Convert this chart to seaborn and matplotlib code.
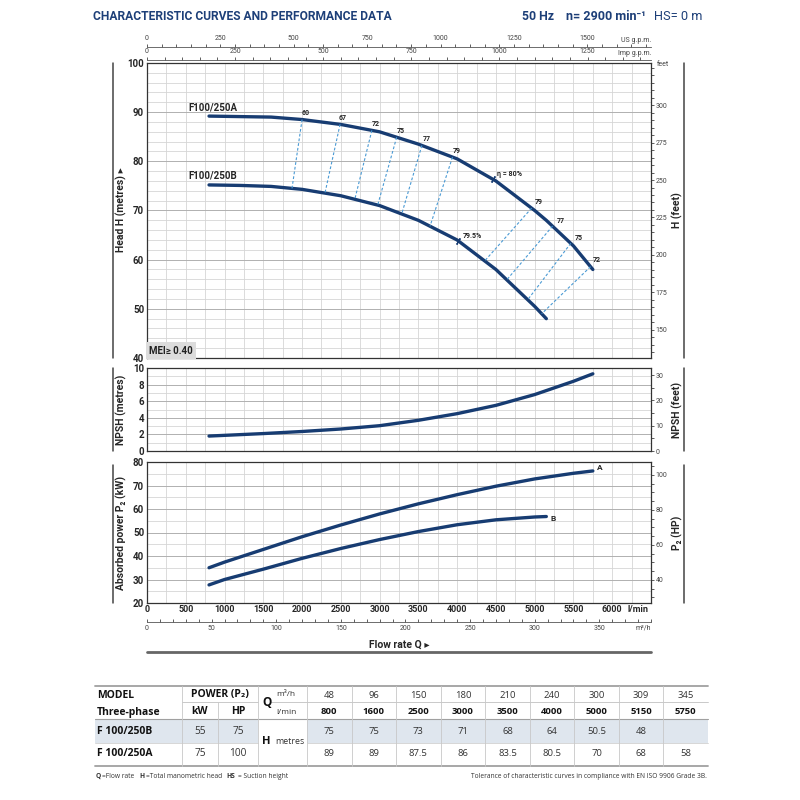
import numpy as np
import matplotlib
matplotlib.use("Agg")
import matplotlib.pyplot as plt
import seaborn as sns
from matplotlib.ticker import MultipleLocator, FixedLocator
from matplotlib.lines import Line2D
from matplotlib.patches import Rectangle

# ---- data ----
# performance table
tab_q_m3h = ["48", "96", "150", "180", "210", "240", "300", "309", "345"]
tab_q_lmin = ["800", "1600", "2500", "3000", "3500", "4000", "5000", "5150", "5750"]
tab_h_b = ["75", "75", "73", "71", "68", "64", "50.5", "48", ""]
tab_h_a = ["89", "89", "87.5", "86", "83.5", "80.5", "70", "68", "58"]
models = ["F 100/250B", "F 100/250A"]
power_kw = ["55", "75"]
power_hp = ["75", "100"]

# head curves (l/min, metres)
head_q_a = [800, 1200, 1600, 2000, 2500, 3000, 3500, 4000, 4500, 5000, 5150, 5500, 5750]
head_a = [89.2, 89.1, 89.0, 88.5, 87.5, 86.0, 83.5, 80.5, 76.0, 70.0, 68.0, 62.8, 58.0]
head_q_b = [800, 1200, 1600, 2000, 2500, 3000, 3500, 4000, 4500, 5000, 5150]
head_b = [75.2, 75.1, 74.9, 74.3, 73.0, 71.0, 68.0, 64.0, 58.0, 50.5, 48.0]

# iso-efficiency lines: flow on curve A, flow on curve B
eff_labels = ["60", "67", "72", "75", "77", "79", "79", "77", "75", "72"]
eff_q_a = [2000, 2490, 2900, 3220, 3545, 3940, 4960, 5230, 5465, 5720]
eff_q_b = [1870, 2295, 2680, 2975, 3285, 3650, 4355, 4640, 4910, 5090]
eff_offsets = [(4, 7), (3, 6), (4, 6), (4, 6), (5, 6), (4, 6), (7, 6), (8, 5), (8, 5), (6, 7)]
best_eff_a = 4460
best_eff_b = 4010

# NPSH curve
npsh_q = [800, 1500, 2000, 2500, 3000, 3500, 4000, 4500, 5000, 5500, 5750]
npsh = [1.8, 2.1, 2.35, 2.65, 3.05, 3.7, 4.5, 5.5, 6.8, 8.4, 9.3]

# absorbed power curves
pow_q_a = [800, 1000, 1500, 2000, 2500, 3000, 3500, 4000, 4500, 5000, 5500, 5750]
pow_a = [35.0, 37.4, 42.8, 48.2, 53.2, 57.9, 62.2, 66.1, 69.7, 72.8, 75.2, 76.2]
pow_q_b = [800, 1000, 1500, 2000, 2500, 3000, 3500, 4000, 4500, 5000, 5150]
pow_b = [27.7, 30.0, 34.4, 39.0, 43.2, 47.0, 50.4, 53.3, 55.4, 56.6, 56.8]

NAVY = "#173c72"
DASH = "#4a9ad4"
TITLE = "#1d3f78"
GRID_MIN = "#d6d6d6"
GRID_MAJ = "#b0b0b0"
SPINE = "#333333"

sns.set_theme(style="white")
MAIN = ["Roboto", "DejaVu Sans"]
OPEN = ["Open Sans", "DejaVu Sans"]
plt.rcParams["font.family"] = MAIN

fig = plt.figure(figsize=(8, 8), dpi=100)
renderer = fig.canvas.get_renderer()


def rect(l, t, r, b):
    return [l / 800, 1 - b / 800, (r - l) / 800, (b - t) / 800]


def ftext(x, y, s, **kw):
    return fig.text(x / 800, 1 - y / 800, s, **kw)


def fline(xs, ys, color="#999999", lw=0.6):
    fig.add_artist(Line2D([x / 800 for x in xs], [1 - y / 800 for y in ys],
                          transform=fig.transFigure, color=color, lw=lw))


def fit_text(x, y, s, width, size, **kw):
    # shrink a text so that it spans about `width` pixels
    t = ftext(x, y, s, fontsize=size, **kw)
    w = t.get_window_extent(renderer).width
    t.set_fontsize(size * width / w)
    return t


def runs(x, y, parts, **kw):
    # consecutive pieces of text: (text, weight, gap after in px)
    for s, weight, gap in parts:
        t = ftext(x, y, s, fontweight=weight, ha="left", **kw)
        x += t.get_window_extent(renderer).width + gap


ax_h = fig.add_axes(rect(147, 63, 651, 358))
ax_n = fig.add_axes(rect(147, 368, 651, 451))
ax_p = fig.add_axes(rect(147, 462, 651, 603))

for ax, (lo, hi, maj, mnr) in zip((ax_h, ax_n, ax_p),
                                   [(40, 100, 10, 2), (0, 10, 2, 1), (20, 80, 10, 5)]):
    ax.set_xlim(0, 6500)
    ax.set_ylim(lo, hi)
    ax.xaxis.set_major_locator(MultipleLocator(500))
    ax.xaxis.set_minor_locator(MultipleLocator(250))
    ax.yaxis.set_major_locator(MultipleLocator(maj))
    ax.yaxis.set_minor_locator(MultipleLocator(mnr))
    ax.set_axisbelow(True)
    ax.grid(which="both", axis="x", color=GRID_MIN, lw=0.6)
    ax.grid(which="minor", axis="y", color=GRID_MIN, lw=0.6)
    ax.grid(which="major", axis="y", color=GRID_MAJ, lw=0.7)
    ax.tick_params(which="both", length=0, pad=2)
    ax.tick_params(axis="y", labelsize=7)
    for lab in ax.get_yticklabels():
        lab.set_fontweight("bold")
    for sp in ax.spines.values():
        sp.set_color(SPINE)
        sp.set_linewidth(0.9)

for ax in (ax_h, ax_n):
    ax.set_xticklabels([])

ax_p.tick_params(axis="x", labelsize=6.5, pad=1.5)
ax_p.set_xticks(np.arange(0, 6001, 500))
ax_p.set_xticklabels([str(v) for v in range(0, 6001, 500)], fontweight="bold")
ax_p.text(0.995, -0.012, "l/min", transform=ax_p.transAxes, fontsize=6.5,
          fontweight="bold", ha="right", va="top")

# ---- head curves ----
sns.lineplot(x=head_q_a, y=head_a, ax=ax_h, color=NAVY, lw=2.4)
sns.lineplot(x=head_q_b, y=head_b, ax=ax_h, color=NAVY, lw=2.4)

for lbl, qa, qb, off in zip(eff_labels, eff_q_a, eff_q_b, eff_offsets):
    ha_ = np.interp(qa, head_q_a, head_a)
    hb_ = np.interp(qb, head_q_b, head_b)
    ax_h.plot([qa, qb], [ha_, hb_], color=DASH, lw=0.8, ls=(0, (2.5, 1.8)))
    ax_h.annotate(lbl, (qa, ha_), xytext=off, textcoords="offset pixels",
                  fontsize=5, fontweight="bold", ha="center", va="center")

h80 = np.interp(best_eff_a, head_q_a, head_a)
h795 = np.interp(best_eff_b, head_q_b, head_b)
ax_h.plot([best_eff_a], [h80], marker=(2, 2, -30), ms=5, mew=0.9, color=NAVY)
ax_h.plot([best_eff_b], [h795], marker=(2, 2, -30), ms=5, mew=0.9, color=NAVY)
ax_h.annotate("η = 80%", (best_eff_a, h80), xytext=(4, 5), textcoords="offset pixels",
              fontsize=5, fontweight="bold", ha="left", va="center")
ax_h.annotate("79.5%", (best_eff_b, h795), xytext=(5, 5), textcoords="offset pixels",
              fontsize=5, fontweight="bold", ha="left", va="center")

ax_h.annotate("F100/250A", (head_q_a[0], head_a[0]), xytext=(-21, 9),
              textcoords="offset pixels", fontsize=7, fontweight="bold", ha="left", va="center")
ax_h.annotate("F100/250B", (head_q_b[0], head_b[0]), xytext=(-21, 9),
              textcoords="offset pixels", fontsize=7, fontweight="bold", ha="left", va="center")

ax_h.text(0.004, 0.008, "MEI≥ 0.40", transform=ax_h.transAxes, fontsize=7,
          fontweight="bold", ha="left", va="bottom", color="#222222",
          bbox=dict(boxstyle="square,pad=0.35", fc="#dcdcdc", ec="none"))

# ---- NPSH ----
sns.lineplot(x=npsh_q, y=npsh, ax=ax_n, color=NAVY, lw=2.4)

# ---- absorbed power ----
sns.lineplot(x=pow_q_a, y=pow_a, ax=ax_p, color=NAVY, lw=2.4)
sns.lineplot(x=pow_q_b, y=pow_b, ax=ax_p, color=NAVY, lw=2.4)
ax_p.annotate("A", (pow_q_a[-1], pow_a[-1]), xytext=(7, 3), textcoords="offset pixels",
              fontsize=6, fontweight="bold", ha="center", va="center")
ax_p.annotate("B", (pow_q_b[-1], pow_b[-1]), xytext=(7, -2), textcoords="offset pixels",
              fontsize=6, fontweight="bold", ha="center", va="center")

# ---- secondary scales ----
LPM_US = 3.78541
LPM_IMP = 4.54609
M_FT = 3.28084
KW_HP = 1.34102


def style_sec(sec, which_spine):
    sec.tick_params(which="both", length=2.5, width=0.6, labelsize=5, pad=1,
                    colors="#444444")
    sec.spines[which_spine].set_color("#555555")
    sec.spines[which_spine].set_linewidth(0.6)


sec_us = ax_h.secondary_xaxis(1 + 16 / 295, functions=(lambda q: q / LPM_US, lambda g: g * LPM_US))
sec_us.xaxis.set_major_locator(MultipleLocator(250))
sec_us.xaxis.set_minor_locator(MultipleLocator(50))
sec_us.tick_params(which="both", direction="out")
style_sec(sec_us, "top")
ax_h.text(1.0, 1 + 19 / 295, "US g.p.m.", transform=ax_h.transAxes, fontsize=5,
          color="#444444", ha="right", va="bottom")

sec_imp = ax_h.secondary_xaxis(1 + 3 / 295, functions=(lambda q: q / LPM_IMP, lambda g: g * LPM_IMP))
sec_imp.xaxis.set_major_locator(MultipleLocator(250))
sec_imp.xaxis.set_minor_locator(MultipleLocator(50))
sec_imp.tick_params(which="both", direction="out")
style_sec(sec_imp, "top")
ax_h.text(1.0, 1 + 6 / 295, "Imp g.p.m.", transform=ax_h.transAxes, fontsize=5,
          color="#444444", ha="right", va="bottom")

sec_m3 = ax_p.secondary_xaxis(-19 / 141, functions=(lambda q: q * 0.06, lambda m: m / 0.06))
sec_m3.xaxis.set_major_locator(MultipleLocator(50))
sec_m3.xaxis.set_minor_locator(MultipleLocator(10))
sec_m3.tick_params(which="both", direction="in")
style_sec(sec_m3, "bottom")
sec_m3.tick_params(which="major", pad=2)
ax_p.text(1.0, -22 / 141, "m³/h", transform=ax_p.transAxes, fontsize=5,
          color="#444444", ha="right", va="top")

sec_hft = ax_h.secondary_yaxis("right", functions=(lambda m: m * M_FT, lambda f: f / M_FT))
sec_hft.yaxis.set_major_locator(FixedLocator([150, 175, 200, 225, 250, 275, 300]))
sec_hft.yaxis.set_minor_locator(MultipleLocator(5))
style_sec(sec_hft, "right")
ax_h.text(1.012, 0.995, "feet", transform=ax_h.transAxes, fontsize=5,
          color="#444444", ha="left", va="center")

sec_nft = ax_n.secondary_yaxis("right", functions=(lambda m: m * M_FT, lambda f: f / M_FT))
sec_nft.yaxis.set_major_locator(MultipleLocator(10))
sec_nft.yaxis.set_minor_locator(MultipleLocator(5))
style_sec(sec_nft, "right")

sec_hp = ax_p.secondary_yaxis("right", functions=(lambda k: k * KW_HP, lambda h: h / KW_HP))
sec_hp.yaxis.set_major_locator(MultipleLocator(20))
sec_hp.yaxis.set_minor_locator(MultipleLocator(5))
style_sec(sec_hp, "right")

# ---- axis titles and side rules ----
side = dict(fontsize=7.5, fontweight="bold", rotation=90, ha="center", va="center")
ftext(121, 210, "Head H (metres) ▸", **side)
ftext(121, 410, "NPSH (metres)", **side)
ftext(121, 533, "Absorbed power P₂ (kW)", **side)
ftext(677, 210, "H (feet)", **side)
ftext(677, 410, "NPSH (feet)", **side)
ftext(677, 533, "P₂ (HP)", **side)
for y0, y1 in [(63, 358), (368, 451), (465, 603)]:
    fline([113, 113], [y0, y1], color="#444444", lw=1.1)
    fline([684, 684], [y0, y1], color="#444444", lw=1.1)

ftext(399, 645, "Flow rate Q ▸", fontsize=7.5, fontweight="bold", ha="center", va="center")
fline([147, 651], [652, 652], color="#666666", lw=2.0)

# ---- header ----
fit_text(93, 17, "CHARACTERISTIC CURVES AND PERFORMANCE DATA", 300, 10,
         fontweight="bold", color=TITLE, ha="left", va="center")
hdr = dict(color=TITLE, ha="left", va="center")
fit_text(522, 17, "50 Hz", 32, 10, fontweight="bold", **hdr)
fit_text(566, 17, "n= 2900 min⁻¹", 80, 10, fontweight="bold", **hdr)
fit_text(654, 17, "HS= 0 m", 48, 10, **hdr)

# ---- performance table ----
T_L, T_R = 95, 708
C_KW, C_HP, C_Q, C_V = 182, 218, 258, 307
val_w = (T_R - C_V) / 9
val_x = [C_V + val_w * (i + 0.5) for i in range(9)]
Y1, Y2, YB, YA = 695, 712, 732, 753

fig.add_artist(Rectangle((T_L / 800, 1 - 743 / 800), (C_Q - T_L) / 800, 24 / 800,
                         transform=fig.transFigure, fc="#dfe6ee", ec="none"))
fig.add_artist(Rectangle((C_V / 800, 1 - 743 / 800), (T_R - C_V) / 800, 24 / 800,
                         transform=fig.transFigure, fc="#dfe6ee", ec="none"))

fline([T_L, T_R], [686, 686], color="#a0a0a0", lw=1.3)
fline([T_L, T_R], [719, 719], color="#a0a0a0", lw=0.8)
fline([T_L, T_R], [766, 766], color="#a0a0a0", lw=1.3)
fline([C_KW, C_Q], [702, 702], color="#c0c0c0", lw=0.6)
fline([C_Q + 12, T_R], [702, 702], color="#c0c0c0", lw=0.6)
fline([T_L, C_Q], [743, 743], color="#d0d0d0", lw=0.6)
fline([C_V, T_R], [743, 743], color="#d0d0d0", lw=0.6)
for x in [C_KW, C_Q, C_V] + [C_V + val_w * i for i in range(1, 9)]:
    fline([x, x], [686, 766], color="#c8c8c8", lw=0.6)
fline([C_HP, C_HP], [702, 766], color="#c8c8c8", lw=0.6)

tb = dict(family=OPEN, fontsize=7.5, fontweight="bold", va="center", color="#111111")
tr = dict(family=OPEN, fontsize=6.8, va="center", color="#333333")
ftext(97, Y1, "MODEL", ha="left", **tb)
ftext(97, Y2, "Three-phase", ha="left", **tb)
ftext((C_KW + C_Q) / 2, Y1, "POWER (P₂)", ha="center", **tb)
ftext((C_KW + C_HP) / 2, Y2, "kW", ha="center", **tb)
ftext((C_HP + C_Q) / 2, Y2, "HP", ha="center", **tb)
ftext(262, 703, "Q", ha="left", **{**tb, "fontsize": 8.5})
ftext(276, Y1, "m³/h", ha="left", **{**tr, "fontsize": 6})
ftext(276, Y2, "l/min", ha="left", **{**tr, "fontsize": 6})
ftext(262, 742, "H", ha="left", **{**tb, "fontsize": 8})
ftext(275, 742, "metres", ha="left", **{**tr, "fontsize": 6.3})

for x, m3, lm, hb_, ha_ in zip(val_x, tab_q_m3h, tab_q_lmin, tab_h_b, tab_h_a):
    ftext(x, Y1, m3, ha="center", **tr)
    ftext(x, Y2, lm, ha="center", **{**tb, "fontsize": 6.8})
    ftext(x, YB, hb_, ha="center", **tr)
    ftext(x, YA, ha_, ha="center", **tr)

for y, mdl, kw, hp in zip([YB, YA], models, power_kw, power_hp):
    ftext(97, y, mdl, ha="left", **tb)
    ftext((C_KW + C_HP) / 2, y, kw, ha="center", **{**tr, "fontsize": 7.3})
    ftext((C_HP + C_Q) / 2, y, hp, ha="center", **{**tr, "fontsize": 7.3})

fs = dict(family=OPEN, fontsize=4.8, va="center", color="#333333")
runs(96, 776, [("Q", "bold", 1), ("=Flow rate", "normal", 5),
               ("H", "bold", 1), ("=Total manometric head", "normal", 5),
               ("HS", "bold", 2), ("= Suction height", "normal", 0)], **fs)
ftext(707, 776, "Tolerance of characteristic curves in compliance with EN ISO 9906 Grade 3B.",
      ha="right", **fs)

fig.savefig("out.png", dpi=100, facecolor="white")
plt.close(fig)
